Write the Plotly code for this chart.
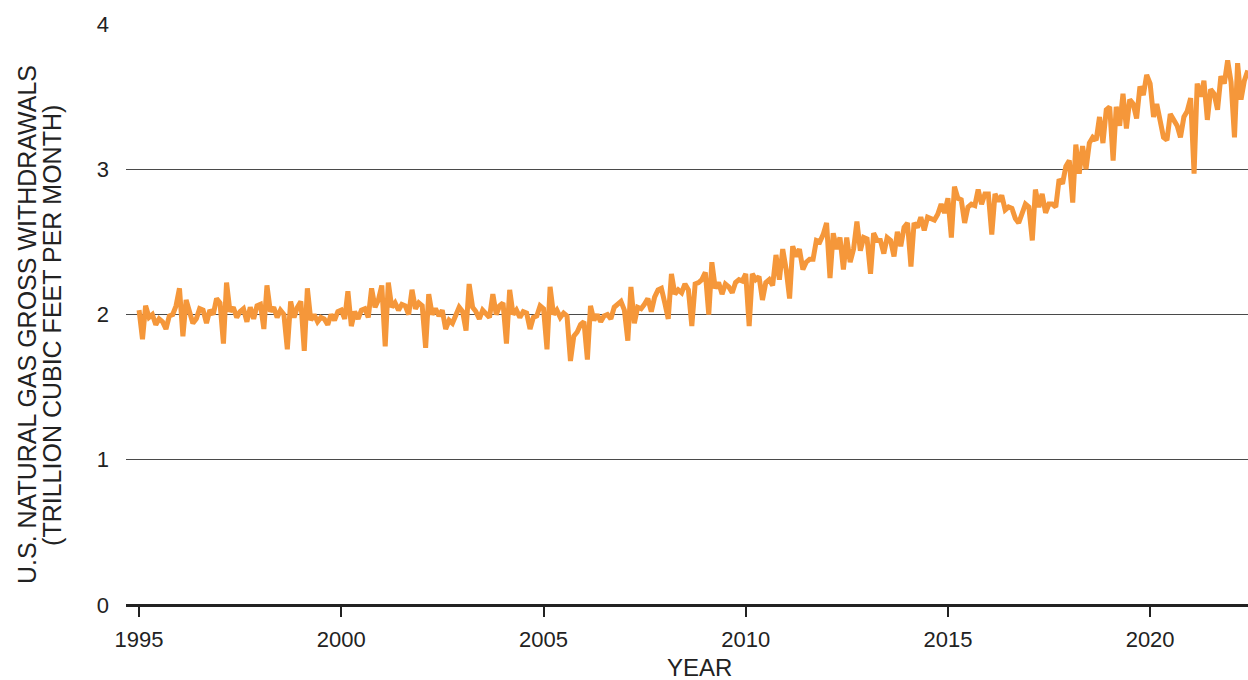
import pandas as pd
import plotly.graph_objects as go

# Monthly U.S. natural gas gross withdrawals (trillion cubic feet), Jan 1995 - Jun 2022
withdrawals = [
    2.03, 1.83, 2.06, 1.98, 2.00, 1.93, 1.97, 1.95, 1.90, 1.99, 2.00, 2.06,  # 1995
    2.18, 1.85, 2.10, 2.00, 1.94, 1.97, 2.04, 2.03, 1.94, 2.03, 2.00, 2.11,  # 1996
    2.08, 1.80, 2.22, 2.02, 2.05, 1.98, 2.02, 2.04, 1.95, 2.05, 1.97, 2.06,  # 1997
    2.07, 1.90, 2.20, 2.02, 2.05, 1.98, 2.03, 2.00, 1.76, 2.09, 1.98, 2.05,  # 1998
    2.09, 1.75, 2.18, 1.96, 2.00, 1.95, 1.98, 1.97, 1.93, 2.00, 1.96, 2.02,  # 1999
    2.03, 1.97, 2.16, 1.92, 2.02, 1.97, 2.03, 2.04, 1.98, 2.18, 2.05, 2.10,  # 2000
    2.20, 1.78, 2.22, 2.05, 2.08, 2.03, 2.07, 2.06, 2.00, 2.17, 2.04, 2.08,  # 2001
    2.06, 1.77, 2.14, 2.00, 2.04, 1.99, 2.03, 1.90, 1.96, 1.94, 2.00, 2.05,  # 2002
    2.02, 1.89, 2.21, 2.05, 2.02, 1.97, 2.03, 2.01, 1.98, 2.14, 2.00, 2.06,  # 2003
    2.08, 1.80, 2.17, 2.00, 2.03, 1.98, 2.02, 2.01, 1.90, 1.98, 1.99, 2.06,  # 2004
    2.04, 1.76, 2.19, 2.00, 2.03, 1.98, 2.01, 1.99, 1.68, 1.85, 1.88, 1.93,  # 2005
    1.95, 1.69, 2.06, 1.96, 2.00, 1.95, 1.99, 2.00, 1.97, 2.05, 2.07, 2.09,  # 2006
    2.03, 1.82, 2.19, 1.94, 2.05, 2.04, 2.07, 2.11, 2.02, 2.12, 2.17, 2.18,  # 2007
    2.08, 1.97, 2.28, 2.14, 2.17, 2.15, 2.21, 2.17, 1.92, 2.21, 2.22, 2.24,  # 2008
    2.29, 2.00, 2.36, 2.18, 2.22, 2.14, 2.21, 2.19, 2.15, 2.22, 2.24, 2.23,  # 2009
    2.28, 1.92, 2.28, 2.24, 2.26, 2.10, 2.22, 2.24, 2.20, 2.41, 2.24, 2.45,  # 2010
    2.31, 2.11, 2.47, 2.40, 2.45, 2.31, 2.36, 2.38, 2.38, 2.51, 2.50, 2.55,  # 2011
    2.63, 2.25, 2.56, 2.45, 2.53, 2.31, 2.53, 2.36, 2.45, 2.64, 2.44, 2.53,  # 2012
    2.52, 2.28, 2.56, 2.51, 2.51, 2.42, 2.53, 2.51, 2.40, 2.57, 2.47, 2.60,  # 2013
    2.63, 2.33, 2.63, 2.60, 2.67, 2.58, 2.67, 2.66, 2.65, 2.69, 2.76, 2.70,  # 2014
    2.80, 2.53, 2.88, 2.80, 2.79, 2.63, 2.74, 2.76, 2.75, 2.86, 2.76, 2.83,  # 2015
    2.83, 2.55, 2.83, 2.78, 2.82, 2.72, 2.74, 2.73, 2.66, 2.63, 2.70, 2.76,  # 2016
    2.74, 2.51, 2.86, 2.74, 2.83, 2.70, 2.76, 2.76, 2.74, 2.93, 2.90, 3.02,  # 2017
    3.06, 2.77, 3.17, 2.97, 3.16, 3.00, 3.18, 3.22, 3.20, 3.36, 3.18, 3.41,  # 2018
    3.43, 3.06, 3.43, 3.30, 3.52, 3.28, 3.48, 3.45, 3.35, 3.57, 3.51, 3.65,  # 2019
    3.59, 3.36, 3.45, 3.33, 3.22, 3.20, 3.38, 3.34, 3.30, 3.22, 3.36, 3.40,  # 2020
    3.49, 2.97, 3.59, 3.50, 3.61, 3.34, 3.55, 3.52, 3.41, 3.64, 3.59, 3.75,  # 2021
    3.60, 3.22, 3.73, 3.48, 3.61, 3.68,                                      # 2022
]
start_month = "1995-01-01"
months = pd.date_range(start_month, periods=len(withdrawals), freq="MS")

x_tick_years = ["1995", "2000", "2005", "2010", "2015", "2020"]
y_ticks = [0, 1, 2, 3, 4]
y_title_lines = ["U.S. NATURAL GAS GROSS WITHDRAWALS", "(TRILLION CUBIC FEET PER MONTH)"]
x_title = "YEAR"

FONT = "Arial, 'Liberation Sans', Helvetica, sans-serif"
TXT = "#222222"

fig = go.Figure()
fig.add_trace(go.Scatter(
    x=months, y=withdrawals, mode="lines",
    line=dict(color="#F5973A", width=5),
    hoverinfo="skip",
))

fig.update_layout(
    width=1248, height=680,
    margin=dict(l=126, r=0, t=24, b=75),
    paper_bgcolor="white", plot_bgcolor="white",
    showlegend=False,
    font=dict(family=FONT, size=22, color=TXT),
    annotations=[
        dict(text=y_title_lines[0], textangle=-90, xref="paper", yref="paper",
             x=-0.0882, y=0.482, xanchor="center", yanchor="middle",
             showarrow=False, font=dict(family=FONT, size=25, color=TXT)),
        dict(text=y_title_lines[1], textangle=-90, xref="paper", yref="paper",
             x=-0.0660, y=0.482, xanchor="center", yanchor="middle",
             showarrow=False, font=dict(family=FONT, size=25, color=TXT)),
        dict(text=x_title, xref="paper", yref="paper",
             x=0.511, y=-0.108, xanchor="center", yanchor="middle",
             showarrow=False, font=dict(family=FONT, size=24, color=TXT)),
    ],
)
fig.update_xaxes(
    type="date",
    range=["1994-09-05", "2022-06-03"],
    tickvals=[pd.Timestamp(y + "-01-01") for y in x_tick_years],
    ticktext=x_tick_years,
    ticks="outside", ticklen=11, tickwidth=1.5, tickcolor="#222",
    ticklabelstandoff=4,
    showgrid=False, showline=False, zeroline=False,
    tickfont=dict(family=FONT, size=22, color=TXT),
)
fig.update_yaxes(
    range=[0, 4],
    tickvals=y_ticks,
    showgrid=True, gridcolor="#4a4a4a", gridwidth=1,
    zeroline=True, zerolinecolor="#222", zerolinewidth=2.5,
    showline=False, ticks="",
    ticklabelstandoff=16,
    tickfont=dict(family=FONT, size=22, color=TXT),
)

fig.write_html(
    "out.html",
    config={"displayModeBar": False},
    post_script="document.body.style.margin='0';document.body.style.overflow='hidden';",
)
